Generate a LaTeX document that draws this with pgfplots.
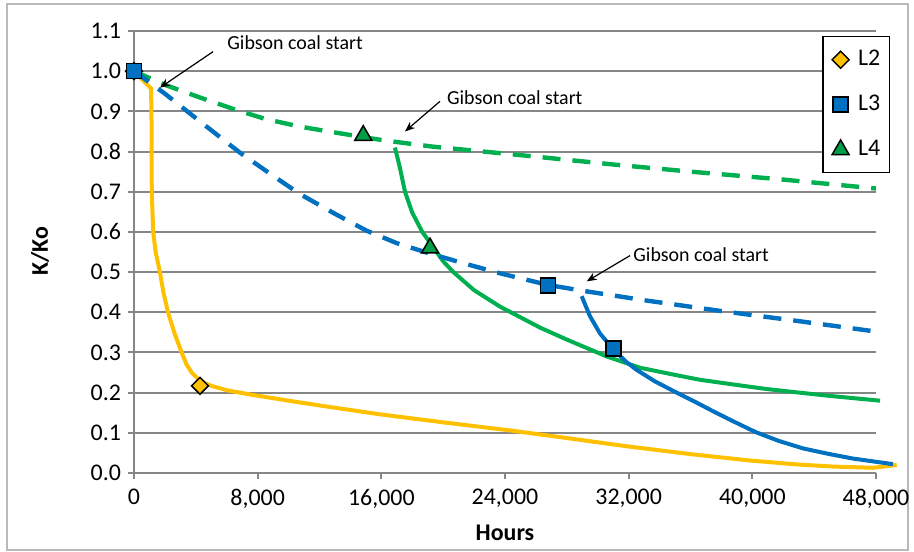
\documentclass[border=0pt]{standalone}
\usepackage{pgfplots}
\pgfplotsset{compat=1.18}
\usepackage{fontspec}
\setmainfont{Carlito}
\usetikzlibrary{arrows.meta}
\definecolor{cYel}{HTML}{FFC000}
\definecolor{cBlu}{HTML}{0070C0}
\definecolor{cGrn}{HTML}{00B050}
\definecolor{cGrid}{HTML}{868686}
\begin{document}
\begin{tikzpicture}
\path[use as bounding box] (-67bp,-39.5bp) rectangle (390bp,236.5bp);
\draw[gray!55, line width=0.75bp] (-63.5bp,-38.5bp) rectangle (387bp,234.5bp);
\begin{axis}[
  anchor=south west, at={(0,0)},
  scale only axis, width=371bp, height=221bp,
  xmin=0, xmax=48000, ymin=0, ymax=1.1,
  clip=false,
  axis x line=bottom, axis y line=left,
  axis line style={cGrid, line width=1bp, -},
  xtick={0,8000,16000,24000,32000,40000,48000},
  ytick={0,0.1,0.2,0.3,0.4,0.5,0.6,0.7,0.8,0.9,1.0,1.1},
  tick align=outside, major tick length=3bp,
  tick style={cGrid, line width=1bp},
  ymajorgrids, grid style={cGrid, line width=1bp},
  /pgf/number format/assume math mode=true,
  scaled x ticks=false,
  xticklabel style={font=\fontsize{12}{14}\selectfont, /pgf/number format/1000 sep={,}, yshift=-1.5bp},
  yticklabel style={font=\fontsize{12}{14}\selectfont, /pgf/number format/.cd, fixed, fixed zerofill, precision=1},
  xlabel={Hours}, ylabel={K/Ko},
  xlabel style={font=\fontsize{12}{14}\selectfont\bfseries, at={(axis description cs:0.5,-0.1357)}, anchor=center},
  ylabel style={font=\fontsize{12}{14}\selectfont\bfseries, at={(axis description cs:-0.1267,0.502)}, anchor=center},
  legend style={at={(1.0189,0.9887)}, anchor=north east, draw=black, line width=0.75bp, fill=white,
    font=\fontsize{12}{14}\selectfont, inner xsep=4.5bp, inner ysep=6.5bp, row sep=12.5bp, column sep=4.5bp,
    nodes={inner sep=0bp, text height=8bp, text depth=2bp}},
  legend cell align=left,
  legend image code/.code={\draw[#1] plot coordinates {(0bp,0bp)};},
]
% L2 line
\addplot[cYel, line width=2bp, forget plot] coordinates {
(0,1.0)(1100,0.957)(1130,0.9)(1140,0.8)(1150,0.7)(1240,0.6)(1400,0.55)(1680,0.5)(1900,0.45)(2200,0.4)(2600,0.35)(3080,0.3)(3400,0.27)(3730,0.25)(4300,0.228)(5000,0.217)(6000,0.206)(7720,0.194)(10000,0.18)(12030,0.168)(15910,0.146)(20230,0.125)(24320,0.106)(28000,0.087)(31980,0.066)(36000,0.047)(39850,0.031)(43000,0.021)(45240,0.016)(47830,0.013)(49340,0.02)};
% L4 dashed
\addplot[cGrn, line width=2.2bp, dash pattern=on 9bp off 6bp, forget plot] coordinates {
(0,1.0)(2000,0.966)(4300,0.934)(6500,0.905)(8500,0.881)(10740,0.862)(12900,0.848)(14830,0.836)(16130,0.828)(19370,0.812)(24760,0.792)(31220,0.767)(36000,0.75)(41790,0.731)(48000,0.708)};
% L4 solid
\addplot[cGrn, line width=2bp, forget plot] coordinates {
(16880,0.81)(17200,0.76)(17530,0.70)(18000,0.648)(18650,0.60)(19150,0.573)(20000,0.527)(20660,0.50)(22000,0.455)(23680,0.414)(26260,0.362)(28000,0.332)(30580,0.29)(32730,0.262)(34890,0.245)(36610,0.232)(39200,0.218)(40920,0.209)(43520,0.198)(45240,0.191)(48260,0.18)};
% L3 dashed
\addplot[cBlu, line width=2.2bp, dash pattern=on 9bp off 6bp, forget plot] coordinates {
(0,1.0)(2000,0.944)(4500,0.868)(6860,0.797)(8800,0.745)(10700,0.695)(13000,0.645)(15050,0.603)(17000,0.572)(19150,0.546)(21500,0.52)(23680,0.497)(26780,0.468)(29280,0.452)(33000,0.43)(38000,0.403)(43000,0.378)(48000,0.352)};
% L3 solid
\addplot[cBlu, line width=2bp, forget plot] coordinates {
(28960,0.44)(29500,0.39)(30150,0.347)(31000,0.308)(31800,0.278)(32500,0.257)(33700,0.228)(35000,0.202)(36300,0.177)(37500,0.153)(38800,0.128)(40200,0.102)(41700,0.08)(43300,0.061)(45000,0.047)(46500,0.036)(49100,0.022)};
% markers
\addplot[only marks, mark=square*, mark size=3bp, mark options={rotate=45, fill=cYel, draw=black, line width=0.75bp}] coordinates {(0,1.0)(4270,0.217)};
\addlegendentry{L2}
\addplot[only marks, mark=square*, mark size=3.75bp, mark options={fill=cBlu, draw=black, line width=0.75bp}] coordinates {(0,1.0)(26780,0.467)(31030,0.31)};
\addlegendentry{L3}
\addplot[only marks, mark=triangle*, mark size=4.9bp, mark options={fill=cGrn!90!black, draw=black, line width=0.75bp}] coordinates {(14830,0.84)(19150,0.56)};
\addlegendentry{L4}
% annotations
\node[anchor=west, inner sep=0pt, font=\fontsize{10}{12}\selectfont] at (axis cs:6016,1.071) {Gibson coal start};
\draw[-{Stealth[length=5bp,width=4bp]}, line width=0.6bp] (axis cs:5110,1.0485) -- (axis cs:1682,0.959);
\node[anchor=west, inner sep=0pt, font=\fontsize{10}{12}\selectfont] at (axis cs:20228,0.933) {Gibson coal start};
\draw[-{Stealth[length=5bp,width=4bp]}, line width=0.6bp] (axis cs:19795,0.925) -- (axis cs:17531,0.850);
\node[anchor=west, inner sep=0pt, font=\fontsize{10}{12}\selectfont] at (axis cs:32280,0.5435) {Gibson coal start};
\draw[-{Stealth[length=5bp,width=4bp]}, line width=0.6bp] (axis cs:32086,0.541) -- (axis cs:29285,0.477);
\end{axis}
\end{tikzpicture}
\end{document}
